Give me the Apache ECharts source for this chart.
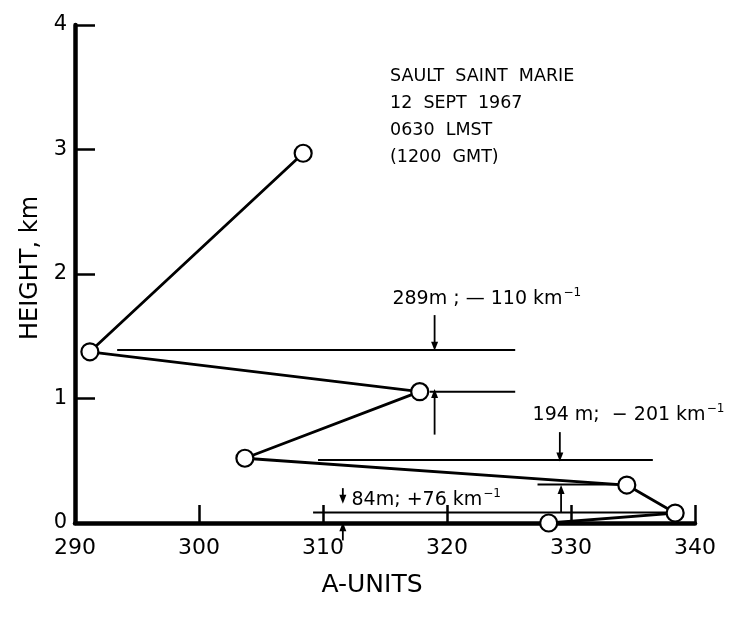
<!DOCTYPE html>
<html>
<head>
<meta charset="utf-8">
<script src="https://cdn.jsdelivr.net/npm/echarts@6/dist/echarts.min.js"></script>
<style>
html,body{margin:0;padding:0;background:#fff;}
#chart{width:750px;height:620px;}
</style>
</head>
<body>
<div id="chart"></div>
<script>
// ---- data ----
const xTicks = [290, 300, 310, 320, 330, 340];
const yTicks = [0, 1, 2, 3, 4];
const profileX = [328.2, 338.4, 334.5, 303.7, 317.8, 291.2, 308.4];
const profileY = [0, 0.08, 0.305, 0.52, 1.055, 1.375, 2.97];
// horizontal duct boundary lines
const ductStartX = [293.4, 318.6, 309.6, 327.3, 309.2];
const ductEndX   = [325.5, 325.5, 336.6, 334.5, 338.4];
const ductY      = [1.39, 1.055, 0.506, 0.31, 0.084];
// arrows (vertical): x, tail height, head height
const arrowX    = [319.0, 319.0, 329.1, 329.2, 311.6, 311.6];
const arrowFrom = [1.67, 0.71, 0.73, 0.08, 0.28, -0.14];
const arrowTo   = [1.42, 1.04, 0.53, 0.27, 0.19, -0.03];
// annotations
const annotX = [315.6, 326.9, 312.3];
const annotY = [1.80, 0.87, 0.185];
const annotMain = ['289m ; \u2014 110 km', '194 m;  \u2212 201 km', '84m; +76 km'];
const annotSup = ['\u22121', '\u22121', '\u22121'];
const titleLines = ['SAULT  SAINT  MARIE', '12  SEPT  1967', '0630  LMST', '(1200  GMT)'];

const FONT = 'DejaVu Sans';
const chart = echarts.init(document.getElementById('chart'), null, {renderer: 'canvas'});

const series = [];
// duct lines
for (let i = 0; i < ductY.length; i++) {
  series.push({
    type: 'line', data: [[ductStartX[i], ductY[i]], [ductEndX[i], ductY[i]]],
    symbol: 'none', lineStyle: {color: '#000', width: 2}, silent: true, z: 2
  });
}
// arrows: line with an arrow head symbol on the head end only
for (let i = 0; i < arrowX.length; i++) {
  const down = arrowTo[i] < arrowFrom[i];
  series.push({
    type: 'line', clip: false, silent: true, z: 3,
    data: [
      {value: [arrowX[i], arrowFrom[i]], symbol: 'none'},
      {value: [arrowX[i], arrowTo[i]], symbol: 'triangle', symbolSize: [7, 9],
       symbolRotate: down ? 180 : 0}
    ],
    showAllSymbol: true,
    lineStyle: {color: '#000', width: 1.8},
    itemStyle: {color: '#000'}
  });
}
// profile
series.push({
  type: 'line', data: profileX.map((x, i) => [x, profileY[i]]),
  symbol: 'circle', symbolSize: 17, z: 5,
  lineStyle: {color: '#000', width: 2.8},
  itemStyle: {color: '#fff', borderColor: '#000', borderWidth: 2.2},
  silent: true
});
// annotations
series.push({
  type: 'scatter', symbolSize: 0, silent: true, z: 6,
  itemStyle: {opacity: 1},
  data: annotX.map((x, i) => ({value: [x, annotY[i]], name: String(i)})),
  label: {
    show: true, position: 'right', distance: 0, color: '#000', opacity: 1,
    formatter: p => '{a|' + annotMain[+p.name] + '}{s|' + annotSup[+p.name] + '}',
    rich: {
      a: {fontFamily: FONT, fontSize: 19, color: '#000'},
      s: {fontFamily: FONT, fontSize: 12, color: '#000', padding: [0, 0, 12, 1]}
    }
  }
});

chart.setOption({
  animation: false,
  backgroundColor: '#fff',
  grid: {left: 75, right: 55, top: 25, bottom: 97, containLabel: false},
  xAxis: {
    type: 'value', min: xTicks[0], max: xTicks[xTicks.length - 1], interval: 10,
    name: 'A-UNITS', nameLocation: 'middle', nameGap: 50,
    nameTextStyle: {fontFamily: FONT, fontSize: 25, color: '#000', padding: [0, 26, 0, 0]},
    axisLine: {lineStyle: {color: '#000', width: 4.5}},
    axisTick: {inside: true, length: 18, lineStyle: {color: '#000', width: 2.5}},
    axisLabel: {fontFamily: FONT, fontSize: 22, color: '#000', margin: 14},
    splitLine: {show: false}
  },
  yAxis: {
    type: 'value', min: yTicks[0], max: yTicks[yTicks.length - 1], interval: 1,
    name: 'HEIGHT, km', nameLocation: 'middle', nameGap: 30, nameRotate: 90,
    nameTextStyle: {fontFamily: FONT, fontSize: 24, color: '#000', padding: [0, 0, 0, 12]},
    axisLine: {lineStyle: {color: '#000', width: 4.5}},
    axisTick: {inside: true, length: 20, lineStyle: {color: '#000', width: 2.5}},
    axisLabel: {fontFamily: FONT, fontSize: 21, color: '#000', margin: 8},
    splitLine: {show: false}
  },
  graphic: [{
    type: 'text', left: 390, top: 63,
    style: {text: titleLines.join('\n'), fontFamily: FONT, fontSize: 17.5, lineHeight: 27, fill: '#000'}
  }],
  series: series
});
</script>
</body>
</html>
